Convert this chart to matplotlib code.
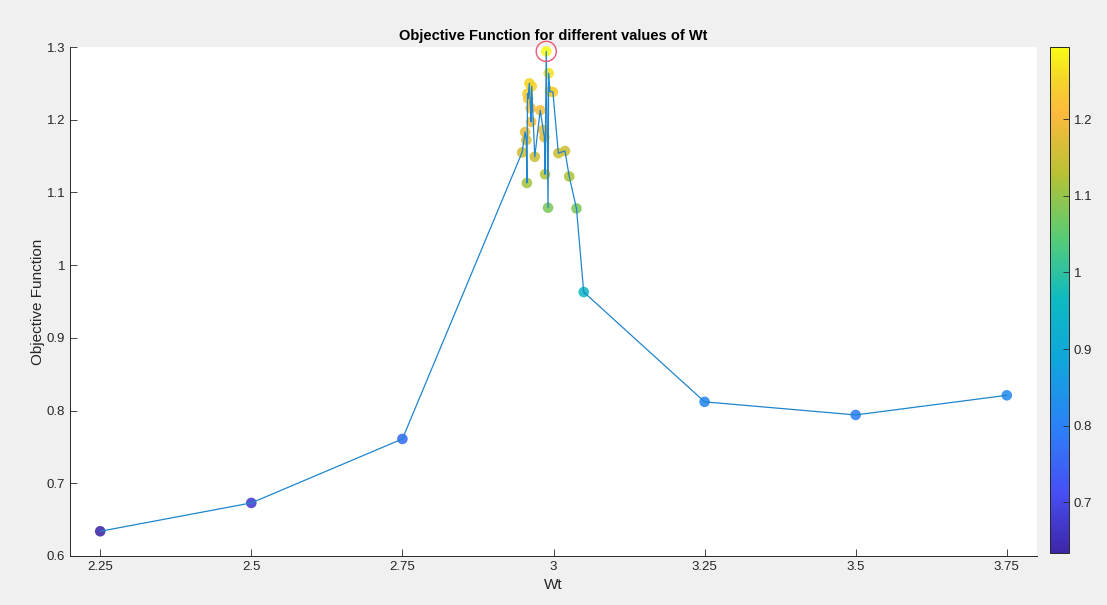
import numpy as np
import matplotlib
matplotlib.use("Agg")
import matplotlib.pyplot as plt
from matplotlib.colors import LinearSegmentedColormap, Normalize

plt.rcParams['font.family'] = ['Liberation Sans', 'DejaVu Sans']

# Data
wt = [2.25, 2.5, 2.75, 2.948, 2.953, 2.955, 2.956, 2.957, 2.958, 2.960, 2.962,
      2.963, 2.964, 2.969, 2.978, 2.983, 2.985, 2.986, 2.988, 2.991, 2.992,
      2.994, 2.999, 3.008, 3.019, 3.026, 3.038, 3.05, 3.25, 3.5, 3.75]
obj = [0.634, 0.673, 0.761, 1.155, 1.183, 1.172, 1.113, 1.236, 1.229, 1.250,
       1.216, 1.197, 1.246, 1.149, 1.213, 1.186, 1.176, 1.125, 1.294, 1.079,
       1.264, 1.239, 1.238, 1.154, 1.157, 1.122, 1.078, 0.963, 0.812, 0.794, 0.821]
best_wt = 2.988
best_obj = 1.294

xticks = [2.25, 2.5, 2.75, 3, 3.25, 3.5, 3.75]
xticklabels = ['2.25', '2.5', '2.75', '3', '3.25', '3.5', '3.75']
yticks = [0.6, 0.7, 0.8, 0.9, 1.0, 1.1, 1.2, 1.3]
yticklabels = ['0.6', '0.7', '0.8', '0.9', '1', '1.1', '1.2', '1.3']
cbticks = [0.7, 0.8, 0.9, 1.0, 1.1, 1.2]
cbticklabels = ['0.7', '0.8', '0.9', '1', '1.1', '1.2']

parula = LinearSegmentedColormap.from_list('parula', [
    (0.00, (0.2422, 0.1504, 0.6603)),
    (0.12, (0.2780, 0.3100, 0.9600)),
    (0.25, (0.1700, 0.5100, 0.9700)),
    (0.38, (0.0600, 0.6500, 0.8600)),
    (0.50, (0.0500, 0.7300, 0.7600)),
    (0.62, (0.3300, 0.8000, 0.4700)),
    (0.75, (0.7200, 0.7600, 0.2000)),
    (0.87, (0.9900, 0.7300, 0.2400)),
    (0.94, (0.9600, 0.8400, 0.1600)),
    (1.00, (0.9769, 0.9839, 0.0805)),
])

fig = plt.figure(figsize=(11.07, 6.05), dpi=100, facecolor='#f0f0f0')
ax = fig.add_axes([70/1107, 1 - 556/605, (1037-70)/1107, (556-47)/605])
cax = fig.add_axes([1050/1107, 1 - 553/605, 19/1107, (553-47)/605])

norm = Normalize(vmin=min(obj), vmax=max(obj))
sc = ax.scatter(wt, obj, c=obj, cmap=parula, norm=norm, s=58, edgecolors='none',
                alpha=0.88, zorder=2, clip_on=False)
ax.plot(wt, obj, color=(0.12, 0.52, 0.80), lw=0.9, zorder=3, clip_on=False)
ax.scatter([best_wt], [best_obj], s=210, facecolors='none',
           edgecolors=(0.93, 0.35, 0.45), linewidths=1.0, zorder=4, clip_on=False)

ax.set_xlim(2.2, 3.8)
ax.set_ylim(0.6, 1.3)
ax.set_xticks(xticks)
ax.set_xticklabels(xticklabels)
ax.set_yticks(yticks)
ax.set_yticklabels(yticklabels)
ax.tick_params(direction='in', length=5, width=0.6, colors='#262626', labelsize=9.5)
for s in ['top', 'right']:
    ax.spines[s].set_visible(False)
for s in ['left', 'bottom']:
    ax.spines[s].set_color('#262626')
    ax.spines[s].set_linewidth(0.7)
ax.set_xlabel('Wt', fontsize=11, color='#262626', labelpad=4)
ax.set_ylabel('Objective Function', fontsize=11, color='#262626', labelpad=1)
ax.set_title('Objective Function for different values of Wt', fontsize=10.5,
             fontweight='bold', color='black', pad=5)

cb = fig.colorbar(sc, cax=cax)
cb.solids.set_alpha(1)
cb.set_ticks(cbticks)
cb.set_ticklabels(cbticklabels)
cb.ax.tick_params(direction='in', length=4, width=0.6, colors='#262626', labelsize=9.5)
cb.outline.set_linewidth(0.7)
cb.outline.set_edgecolor('#262626')

fig.savefig('out.png', dpi=100, facecolor=fig.get_facecolor())
